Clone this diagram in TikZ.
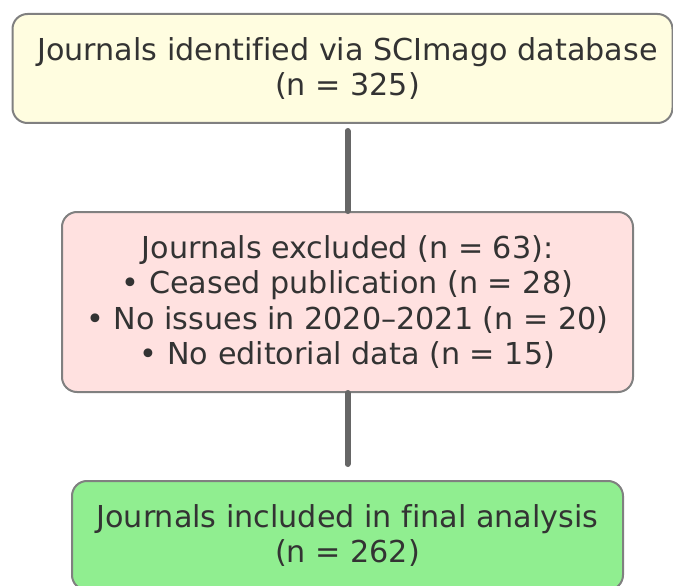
\documentclass[tikz,border=0pt]{standalone}
\usepackage{fontspec}
\setmainfont[Ligatures=NoCommon]{DejaVu Sans}
\usetikzlibrary{positioning}

\definecolor{boxline}{HTML}{808080}
\definecolor{txtgray}{HTML}{333333}
\definecolor{linkgray}{HTML}{666666}
\definecolor{idfill}{HTML}{FFFDE0}
\definecolor{exfill}{HTML}{FFE1E0}
\definecolor{infill}{HTML}{90EE90}

\begin{document}
\begin{tikzpicture}[x=1pt,y=1pt,
  stage/.style={draw=boxline,line width=2pt,rounded corners=15pt,
    fill=#1,text=txtgray,align=center,inner sep=0pt,
    font=\fontsize{30.2}{35.5}\selectfont},
  stage/.default=white,
  link/.style={draw=linkgray,line width=6pt,line cap=round}]
 \useasboundingbox (0,0) rectangle (673,-586);

 \node[stage=idfill,minimum width=660pt,minimum height=109pt] (ident) at (342.5,-68.5)
   {\hspace*{10pt}Journals identified via SCImago database\\\hspace*{10pt}(n = 325)};
 \node[stage=exfill,minimum width=571pt,minimum height=180pt] (excl) at (347.5,-302)
   {Journals excluded (n = 63):\\
    • Ceased publication (n = 28)\\
    • No issues in 2020–2021 (n = 20)\\
    • No editorial data (n = 15)};
 \node[stage=infill,minimum width=551pt,minimum height=109pt] (incl) at (347.5,-535.5)
   {Journals included in final analysis\\(n = 262)};

 \coordinate (top) at (347.5,-131);
 \coordinate (bot) at (347.5,-464);
 \draw[link] (top) -- (excl.north);
 \draw[link] (excl.south) -- (bot);
\end{tikzpicture}
\end{document}
